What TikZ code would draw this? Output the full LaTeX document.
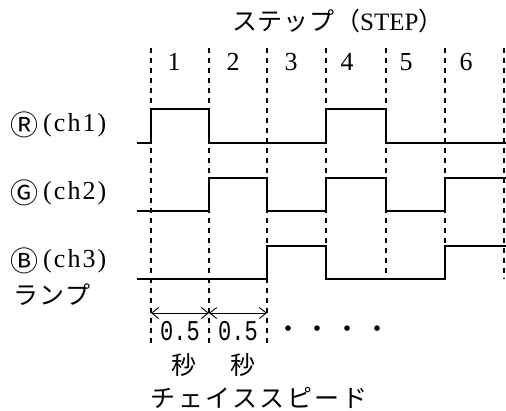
\documentclass[tikz,border=0pt]{standalone}
\usepackage{fontspec}
\setmainfont{Liberation Serif}
\newfontfamily\jp{Noto Sans CJK JP}
\newfontfamily\jpa[LetterSpace=3]{Noto Sans CJK JP}
\newfontfamily\jpl[LetterSpace=7]{Noto Sans CJK JP}
\newfontfamily\jpb[LetterSpace=10]{Noto Sans CJK JP}
\newfontfamily\jpdots[LetterSpace=14]{Noto Sans CJK JP}
\newfontfamily\latsp[LetterSpace=8]{Liberation Serif}
\newfontfamily\monof{Liberation Mono}
\usetikzlibrary{arrows.meta}
\tikzset{
  sig/.style={line width=1.8pt, line join=miter},
  gridline/.style={line width=1.1pt, dash pattern=on 5pt off 5pt},
  dim/.style={line width=0.9pt, {Straight Barb[length=7pt,width=11pt]}-{Straight Barb[length=7pt,width=11pt]}},
  lbl/.style={inner sep=0pt, font=\fontsize{25}{25}\selectfont},
  num/.style={inner sep=0pt, font=\fontsize{26}{26}\selectfont},
}
\newcommand{\circl}[1]{\raisebox{-4.5pt}{\jp\fontsize{28}{28}\selectfont #1}}
\newcommand{\chlab}[1]{{\latsp\fontsize{26}{26}\selectfont\hspace{5pt}(ch#1)}}
\begin{document}
\begin{tikzpicture}[x=1pt,y=-1pt]
\useasboundingbox (0,0) rectangle (506,410);
% grid coordinates
\foreach \n/\x in {0/151,1/209,2/267,3/326,4/386,5/445,6/504}{
  \coordinate (t\n) at (\x,48);
}
\foreach \n/\x in {0/151,1/209,2/267}{
  \coordinate (b\n) at (\x,347);
}
\foreach \n/\x in {3/326,4/386,5/445,6/504}{
  \coordinate (b\n) at (\x,279);
}
\foreach \n in {0,...,6}{
  \draw[gridline] (t\n) -- (b\n);
}
% title and step numbers
\node[lbl, anchor=west] (title) at (232,21) {{\jpa ステップ（}{\fontsize{25}{25}\selectfont STEP}{\jp ）}};
\node[num] (s1) at (174,62) {1};
\node[num] (s2) at (233,62) {2};
\node[num] (s3) at (291,62) {3};
\node[num] (s4) at (347,62) {4};
\node[num] (s5) at (406,62) {5};
\node[num] (s6) at (466,62) {6};
% channel labels
\node[lbl, anchor=west] (rl) at (10,125) {\circl{Ⓡ}\chlab{1}};
\node[lbl, anchor=west] (gl) at (10,193) {\circl{Ⓖ}\chlab{2}};
\node[lbl, anchor=west] (bl) at (10,261) {\circl{Ⓑ}\chlab{3}};
\node[lbl, anchor=west] (lamp) at (13,295) {\jpl ランプ};
% traces
\draw[sig] (137,143) -- (151,143) -- (151,109) -- (209,109) -- (209,143) -- (326,143) -- (326,109) -- (386,109) -- (386,143) -- (506,143);
\draw[sig] (137,211) -- (209,211) -- (209,178) -- (267,178) -- (267,211) -- (326,211) -- (326,178) -- (386,178) -- (386,211) -- (445,211) -- (445,178) -- (506,178);
\draw[sig] (137,279) -- (267,279) -- (267,246) -- (326,246) -- (326,279) -- (445,279) -- (445,246) -- (506,246);
% chase speed
\coordinate (a0) at (151,313);
\coordinate (a1) at (209,313);
\coordinate (a2) at (267,313);
\draw[dim] (a0) -- (a1);
\draw[dim] (a1) -- (a2);
\node[inner sep=0pt, font=\monof\fontsize{22}{22}\selectfont, yscale=1.3] (v1) at (180,331) {0.5};
\node[inner sep=0pt, font=\monof\fontsize{22}{22}\selectfont, yscale=1.3] (v2) at (238,331) {0.5};
\node[lbl] (u1) at (184,365) {\jp 秒};
\node[lbl] (u2) at (243,365) {\jp 秒};
\node[inner sep=0pt, anchor=west, font=\fontsize{26}{26}\selectfont] (dots) at (275,332) {\jpdots ・・・・};
\node[lbl] (chase) at (259,398) {\jpb チェイススピード};
\end{tikzpicture}
\end{document}
